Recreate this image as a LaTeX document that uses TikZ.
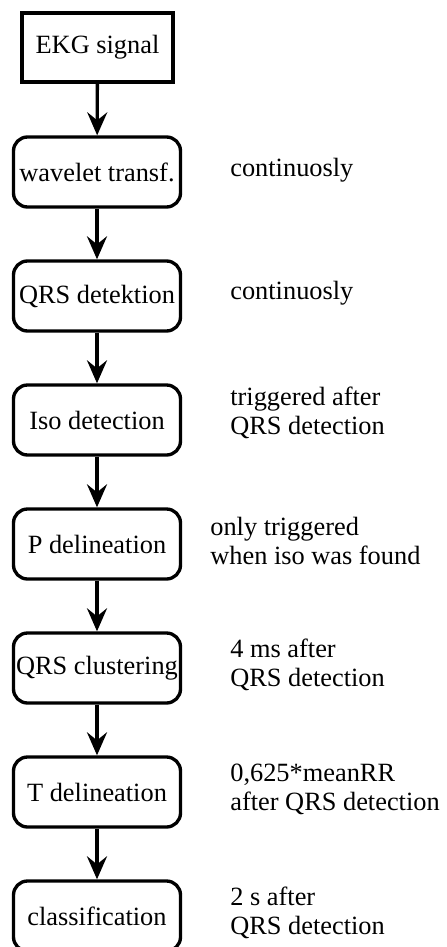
\documentclass[tikz,border=0pt]{standalone}
\usepackage{fontspec}
\setmainfont{Liberation Serif}
\usetikzlibrary{arrows.meta}
\begin{document}
\begin{tikzpicture}[
        font=\fontsize{15}{16.5}\selectfont,
        stage/.style={draw, line width=1.9pt, rounded corners=0.28cm, minimum width=3.34cm, minimum height=1.4cm, inner sep=1pt},
        note/.style={anchor=west, align=left, inner sep=0pt},
        flow/.style={-{Stealth[length=0.46cm, width=0.4cm, inset=0.16cm]}, line width=1.9pt}
    ]
                \useasboundingbox (0,0) rectangle (8.92,-18.94);

                % processing chain
                \node[stage, rounded corners=0pt, minimum width=3.02cm, minimum height=1.38cm] (ekg) at (1.95,-0.95) {EKG signal};
                \node[stage] (wav) at (1.94,-3.44) {wavelet transf.};
                \node[stage] (qrs) at (1.94,-5.92) {QRS detektion};
                \node[stage] (iso) at (1.94,-8.40) {Iso detection};
                \node[stage] (pdel) at (1.94,-10.88) {P delineation};
                \node[stage] (clus) at (1.94,-13.36) {QRS clustering};
                \node[stage] (tdel) at (1.94,-15.84) {T delineation};
                \node[stage] (cls) at (1.94,-18.32) {classification};

                % timing of each step
                \node[note] (wavinfo) at (4.6,-3.40) {continuosly};
                \node[note] (qrsinfo) at (4.6,-5.86) {continuosly};
                \node[note] (isoinfo) at (4.6,-8.26) {triggered after\\QRS detection};
                \node[note] (pdelinfo) at (4.2,-10.82) {only triggered\\when iso was found};
                \node[note] (clusinfo) at (4.6,-13.30) {4 ms after\\QRS detection};
                \node[note] (tdelinfo) at (4.6,-15.78) {0,625*meanRR\\after QRS detection};
                \node[note] (clsinfo) at (4.6,-18.26) {2 s after\\QRS detection};

                \draw[flow] (ekg) to (wav); \draw[flow] (wav) to (qrs); \draw[flow] (qrs) to (iso); \draw[flow] (iso) to (pdel);
                \draw[flow] (pdel) to (clus); \draw[flow] (clus) to (tdel); \draw[flow] (tdel) to (cls);
\end{tikzpicture}
\end{document}
